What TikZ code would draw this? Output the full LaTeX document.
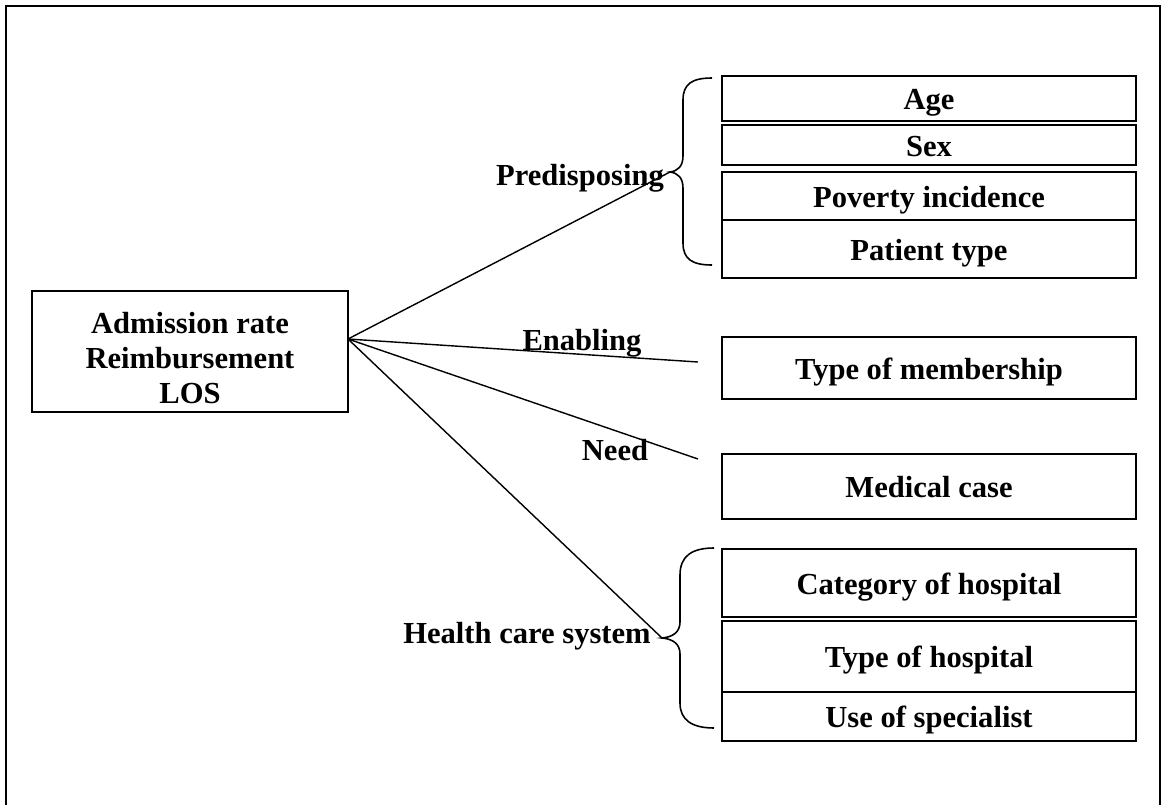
\documentclass[tikz,border=0pt]{standalone}
\usepackage{fontspec}
\setmainfont{Liberation Serif}
\usepackage{tikz}
\usetikzlibrary{positioning}
\tikzset{
  cell/.style={rectangle, draw, line width=0.9pt, outer sep=0pt, inner sep=0pt, minimum width=8.28cm, text height=15pt, text depth=2pt, align=center, font=\bfseries\fontsize{17.4}{20}\selectfont},
  outcome/.style={rectangle, draw, line width=0.9pt, outer sep=0pt, inner sep=0pt, minimum width=6.32cm, minimum height=2.42cm, text height=59pt, text depth=0pt, align=center, font=\bfseries\fontsize{17.4}{20}\selectfont},
  factor/.style={inner sep=0pt, font=\bfseries\fontsize{17.4}{20}\selectfont},
  link/.style={line width=0.8pt},
  curl/.style={line width=0.9pt},
  frame/.style={line width=1pt}
}

\begin{document}
\begin{tikzpicture}[x=0.02cm, y=-0.02cm]

\useasboundingbox (0,0) rectangle (1164,805);
\draw[frame] (6,805) -- (6,6) -- (1160,6) -- (1160,805);

\node[outcome] (outc) at (190,351.5) {Admission rate\\Reimbursement\\LOS};

\node[cell, minimum height=0.9cm] (age) at (929,98.5) {Age};
\node[cell, minimum height=0.8cm, below=0.08cm of age] (sex) {Sex};
\node[cell, minimum height=0.96cm, below=0.14cm of sex] (pov) {Poverty incidence};
\node[cell, minimum height=1.16cm, below=0pt of pov] (pat) {Patient type};

\node[cell, minimum height=1.24cm] (memb) at (929,368) {Type of membership};
\node[cell, minimum height=1.3cm, below=1.1cm of memb] (medic) {Medical case};

\node[cell, minimum height=1.36cm, below=0.6cm of medic] (cat) {Category of hospital};
\node[cell, minimum height=1.42cm, below=0.08cm of cat] (htype) {Type of hospital};
\node[cell, minimum height=0.98cm, below=0pt of htype] (spec) {Use of specialist};

\node[factor] (predis) at (580,178) {Predisposing};
\node[factor] (enab) at (582,343) {Enabling};
\node[factor] (need) at (615,450) {Need};
\node[factor] (hcs) at (527,636) {Health care system};

\coordinate (hub) at (348,339);
\coordinate (tipA) at (670,172);
\coordinate (tipB) at (662,638);
\coordinate (endE) at (698,362);
\coordinate (endN) at (698,459);

% braces
\draw[curl] (712,78) .. controls (692,78) and (683,84) .. (683,100) -- (683,156)
  .. controls (683,166) and (678,171) .. (tipA)
  .. controls (678,173) and (683,178) .. (683,188) -- (683,243)
  .. controls (683,259) and (692,265) .. (712,265);
\draw[curl] (714,548) .. controls (692,548) and (680,556) .. (680,575) -- (680,622)
  .. controls (680,632) and (673,637) .. (tipB)
  .. controls (673,639) and (680,644) .. (680,654) -- (680,703)
  .. controls (680,720) and (692,728) .. (714,728);

\draw[link] (hub) -- (tipA);
\draw[link] (hub) -- (endE);
\draw[link] (hub) -- (endN);
\draw[link] (hub) -- (tipB);

\end{tikzpicture}
\end{document}
